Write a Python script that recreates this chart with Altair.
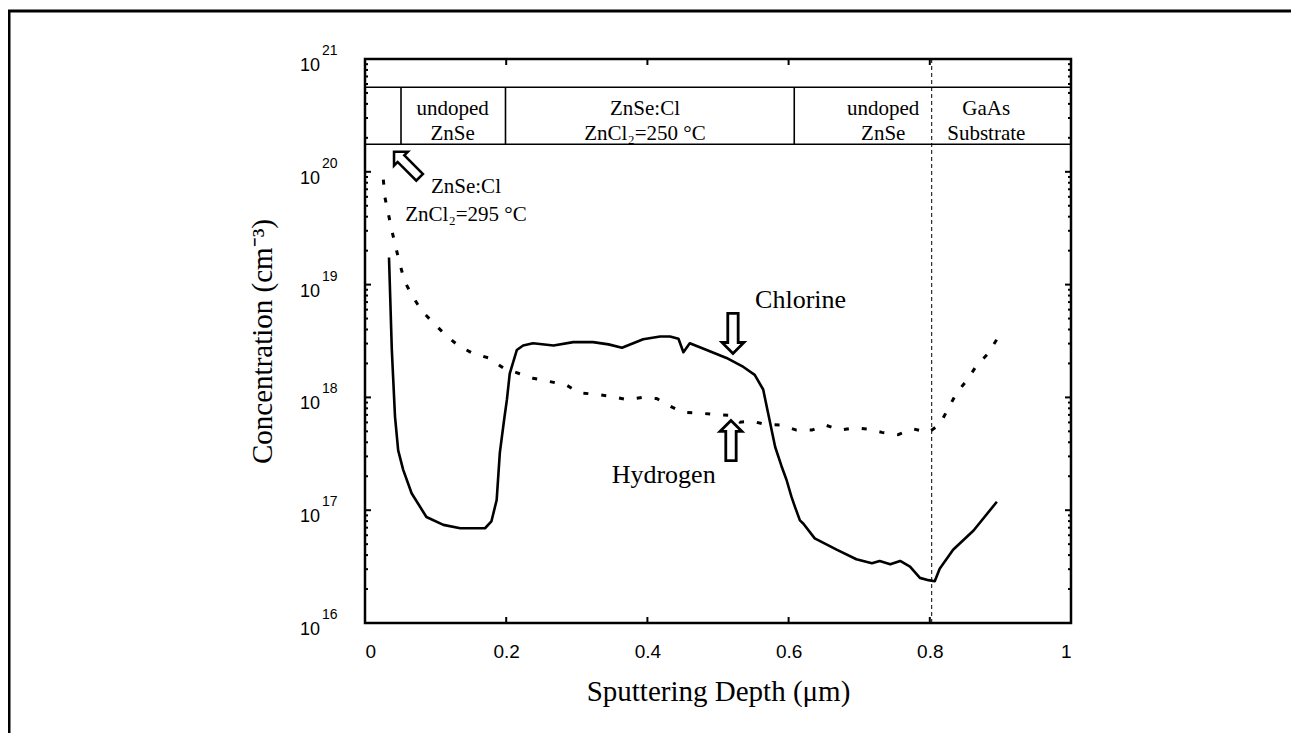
import altair as alt
import pandas as pd

# ---------------- data ----------------
# Chlorine profile (solid): depth in um, log10 of concentration (cm^-3)
cl_depth = [0.034, 0.038, 0.0425, 0.047, 0.054, 0.066, 0.087, 0.111, 0.135, 0.170,
            0.179, 0.1865, 0.191, 0.197, 0.201, 0.205, 0.215, 0.224, 0.238, 0.267,
            0.295, 0.323, 0.345, 0.364, 0.394, 0.418, 0.432, 0.444, 0.451, 0.460,
            0.484, 0.512, 0.536, 0.552, 0.564, 0.571, 0.581, 0.590, 0.597, 0.604,
            0.609, 0.616, 0.621, 0.637, 0.668, 0.696, 0.718, 0.729, 0.744, 0.758,
            0.772, 0.786, 0.798, 0.807, 0.814, 0.833, 0.862, 0.895]
cl_log10 = [19.24, 18.42, 17.83, 17.53, 17.36, 17.15, 16.94, 16.87, 16.84, 16.84,
            16.90, 17.09, 17.51, 17.80, 17.98, 18.21, 18.42, 18.46, 18.48, 18.46,
            18.49, 18.49, 18.47, 18.44, 18.515, 18.54, 18.54, 18.52, 18.40, 18.48,
            18.42, 18.35, 18.27, 18.20, 18.07, 17.86, 17.56, 17.39, 17.27, 17.12,
            17.03, 16.91, 16.88, 16.75, 16.65, 16.565, 16.53, 16.55, 16.52, 16.55,
            16.50, 16.40, 16.38, 16.37, 16.48, 16.65, 16.82, 17.075]

# Hydrogen profile (dotted)
h_depth = [0.026, 0.028, 0.033, 0.038, 0.044, 0.050, 0.056, 0.067, 0.080, 0.097,
           0.113, 0.132, 0.153, 0.175, 0.196, 0.219, 0.238, 0.262, 0.285, 0.304,
           0.323, 0.347, 0.371, 0.392, 0.413, 0.430, 0.449, 0.475, 0.493, 0.517,
           0.531, 0.548, 0.567, 0.590, 0.611, 0.633, 0.652, 0.673, 0.693, 0.711,
           0.732, 0.755, 0.777, 0.798, 0.814, 0.826, 0.838, 0.853, 0.866, 0.882,
           0.895]
h_log10 = [19.93, 19.78, 19.63, 19.48, 19.32, 19.17, 19.03, 18.90, 18.77, 18.66,
           18.56, 18.46, 18.39, 18.35, 18.26, 18.21, 18.17, 18.14, 18.11, 18.04,
           18.03, 18.01, 17.98, 18.00, 17.99, 17.93, 17.87, 17.86, 17.85, 17.84,
           17.78, 17.79, 17.76, 17.755, 17.71, 17.71, 17.755, 17.71, 17.73, 17.72,
           17.69, 17.67, 17.72, 17.69, 17.76, 17.90, 18.04, 18.155, 18.28, 18.385,
           18.515]

# layer structure band
band_rows_log10 = [20.244, 20.749]
band_dividers = [0.051, 0.199, 0.608]
interface_depth = [0.8027]
band_label_depth = [0.124, 0.3966, 0.734, 0.88]
band_label_text = ["undoped\nZnSe", "ZnSe:Cl\nZnCl\u2082=250 \u00b0C", "undoped\nZnSe", "GaAs\nSubstrate"]
band_label_log10 = 20.504

# axis ticks
x_tick_vals = [0, 0.2, 0.4, 0.6, 0.8, 1.0]
x_inner_ticks = [0.2, 0.4, 0.6, 0.8]
y_exponents = [16, 17, 18, 19, 20, 21]
y_minor = [m * 10.0 ** k for k in range(16, 21) for m in range(2, 10)]

# annotations
ann_text = ["ZnSe:Cl\nZnCl\u2082=295 \u00b0C"]
ann_depth = [0.143]
ann_log10 = [19.812]
name_text = ["Chlorine", "Hydrogen"]
name_depth = [0.617, 0.423]
name_log10 = [18.793, 17.241]
arrow_glyph = ["\u21e6", "\u21e9", "\u21e7"]
arrow_depth = [0.0595, 0.521, 0.518]
arrow_log10 = [20.06, 18.535, 17.578]
arrow_angle = [45, 0, 0]
arrow_size = [52, 58, 58]

# ---------------- chart ----------------
W, H = 706, 564
SERIF = "Liberation Serif"
SANS = "Liberation Sans"

xs = alt.Scale(domain=[0, 1], nice=False, zero=False)
ys = alt.Scale(type="log", domain=[1e16, 1e21], nice=False)

xaxis = alt.Axis(values=x_tick_vals, format="~g", ticks=False, domain=False, grid=False,
                 labelFont=SANS, labelFontSize=19, labelPadding=19, labelColor="black",
                 title="Sputtering Depth (\u03bcm)", titleFont=SERIF, titleFontSize=29,
                 titleFontWeight="normal", titleColor="black", titlePadding=16)
yaxis = alt.Axis(labels=False, ticks=False, domain=False, grid=False, minExtent=0,
                 title="Concentration (cm\u207b\u00b3)", titleFont=SERIF, titleFontSize=29,
                 titleFontWeight="normal", titleColor="black", titlePadding=88)


def X(f="depth"):
    return alt.X(f"{f}:Q", scale=xs, axis=xaxis)


def Y(f="conc"):
    return alt.Y(f"{f}:Q", scale=ys, axis=yaxis)


df_cl = pd.DataFrame({"depth": cl_depth, "conc": [10 ** v for v in cl_log10]})
df_h = pd.DataFrame({"depth": h_depth, "conc": [10 ** v for v in h_log10]})

chlorine = alt.Chart(df_cl).mark_line(color="black", strokeWidth=2.6, strokeJoin="round").encode(
    x=X(), y=Y())
hydrogen = alt.Chart(df_h).mark_line(color="black", strokeWidth=3, strokeDash=[5, 13]).encode(
    x=X(), y=Y())

df_rows = pd.DataFrame({"conc": [10 ** v for v in band_rows_log10]})
rows = alt.Chart(df_rows).mark_rule(color="black", strokeWidth=1.6).encode(
    y=Y(), x=alt.value(0), x2=alt.value(W))

df_div = pd.DataFrame({"depth": band_dividers,
                       "lo": [10 ** band_rows_log10[0]] * len(band_dividers),
                       "hi": [10 ** band_rows_log10[1]] * len(band_dividers)})
dividers = alt.Chart(df_div).mark_rule(color="black", strokeWidth=1.6).encode(
    x=X(), y=Y("lo"), y2=alt.Y2("hi"))

df_if = pd.DataFrame({"depth": interface_depth})
interface = alt.Chart(df_if).mark_rule(color="black", strokeWidth=1, strokeDash=[4, 3]).encode(
    x=X(), y=alt.value(0), y2=alt.value(H))

df_bl = pd.DataFrame({"depth": band_label_depth, "conc": [10 ** band_label_log10] * 4,
                      "txt": band_label_text})
band_labels = alt.Chart(df_bl).mark_text(font=SERIF, fontSize=21, color="black", align="center",
                                         baseline="alphabetic", lineBreak="\n", lineHeight=25).encode(
    x=X(), y=Y(), text="txt:N")

df_ann = pd.DataFrame({"depth": ann_depth, "conc": [10 ** v for v in ann_log10], "txt": ann_text})
ann = alt.Chart(df_ann).mark_text(font=SERIF, fontSize=21, color="black", align="center",
                                  baseline="alphabetic", lineBreak="\n", lineHeight=28).encode(
    x=X(), y=Y(), text="txt:N")

df_names = pd.DataFrame({"depth": name_depth, "conc": [10 ** v for v in name_log10], "txt": name_text})
names = alt.Chart(df_names).mark_text(font=SERIF, fontSize=26, color="black", align="center",
                                      baseline="alphabetic").encode(
    x=X(), y=Y(), text="txt:N")

df_arr = pd.DataFrame({"depth": arrow_depth, "conc": [10 ** v for v in arrow_log10],
                       "g": arrow_glyph, "ang": arrow_angle, "fs": arrow_size})
arrows = alt.Chart(df_arr).mark_text(font="DejaVu Sans", color="black",
                                     align="center", baseline="middle").encode(
    x=X(), y=Y(), text="g:N", angle=alt.Angle("ang:Q", scale=None),
    size=alt.Size("fs:Q", scale=None, legend=None))

# ticks (inward)
df_ymaj = pd.DataFrame({"conc": [10.0 ** e for e in y_exponents]})
df_ymin = pd.DataFrame({"conc": y_minor})
ytick_l = alt.Chart(df_ymaj).mark_rule(color="black", strokeWidth=2).encode(
    y=Y(), x=alt.value(0), x2=alt.value(6))
ytick_r = alt.Chart(df_ymaj).mark_rule(color="black", strokeWidth=2).encode(
    y=Y(), x=alt.value(W - 6), x2=alt.value(W))
ymin_l = alt.Chart(df_ymin).mark_rule(color="black", strokeWidth=2).encode(
    y=Y(), x=alt.value(0), x2=alt.value(3))
ymin_r = alt.Chart(df_ymin).mark_rule(color="black", strokeWidth=2).encode(
    y=Y(), x=alt.value(W - 3), x2=alt.value(W))

df_xt = pd.DataFrame({"depth": x_inner_ticks})
xtick_b = alt.Chart(df_xt).mark_rule(color="black", strokeWidth=2).encode(
    x=X(), y=alt.value(H - 6), y2=alt.value(H))
xtick_t = alt.Chart(df_xt).mark_rule(color="black", strokeWidth=2).encode(
    x=X(), y=alt.value(0), y2=alt.value(6))

# y tick labels: 10 with raised exponent
df_ylab = pd.DataFrame({"conc": [10.0 ** e for e in y_exponents],
                        "base": ["10"] * len(y_exponents),
                        "exp": [str(e) for e in y_exponents]})
ylab_base = alt.Chart(df_ylab).mark_text(font=SANS, fontSize=18, color="black", align="right",
                                         baseline="middle", dy=7).encode(
    y=Y(), x=alt.value(-45), text="base:N")
ylab_exp = alt.Chart(df_ylab).mark_text(font=SANS, fontSize=14, color="black", align="left",
                                        baseline="middle", dy=-8).encode(
    y=Y(), x=alt.value(-43), text="exp:N")

# outer figure frame (left and top edges)
df_one = pd.DataFrame({"k": [0]})
frame_left = alt.Chart(df_one).mark_rule(color="black", strokeWidth=3).encode(
    x=alt.value(-356), y=alt.value(-48), y2=alt.value(674))
frame_top = alt.Chart(df_one).mark_rule(color="black", strokeWidth=3).encode(
    x=alt.value(-357), x2=alt.value(926), y=alt.value(-48))

chart = alt.layer(
    rows, dividers, interface, hydrogen, chlorine, band_labels, ann, names, arrows,
    ytick_l, ytick_r, ymin_l, ymin_r, xtick_b, xtick_t, ylab_base, ylab_exp,
    frame_left, frame_top
).properties(
    width=W, height=H,
    padding={"left": 357, "top": 51, "right": 222, "bottom": 110},
    autosize=alt.AutoSizeParams(type="none"),
    background="white",
).configure_view(stroke="black", strokeWidth=2.5)

chart.save("out.html", embed_options={"renderer": "svg", "actions": False})
